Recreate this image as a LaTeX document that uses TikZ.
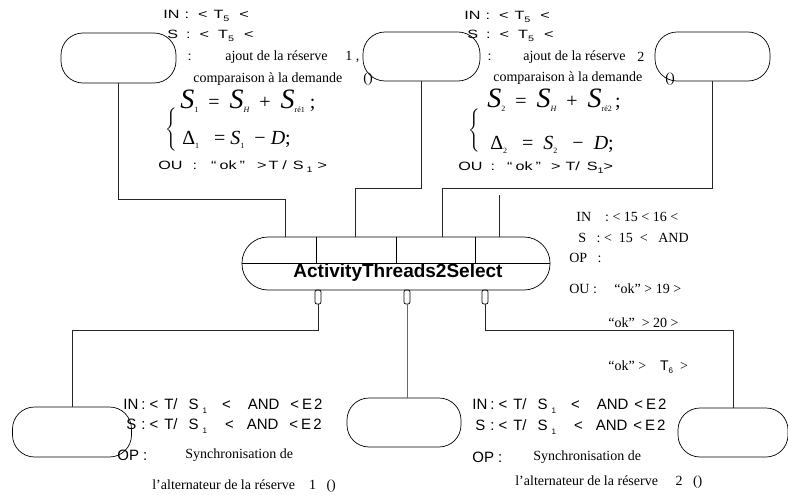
\documentclass[tikz,border=0pt]{standalone}
\usepackage{amsmath}
\usepackage{fontspec}
\setmainfont{Liberation Serif}
\setsansfont{Liberation Sans}
\newfontfamily\widesf{Liberation Sans}[FakeStretch=1.35]

\newcommand{\lowidx}[1]{\raisebox{-.45ex}{\fontsize{8}{8}\selectfont #1}}
\newcommand{\eqS}{{\fontsize{28}{28}\selectfont\itshape S}}

\definecolor{wirered}{RGB}{200,60,60}

\tikzset{
  pill/.style={draw, rounded corners=22pt, inner sep=0pt},
  port/.style={draw, rounded corners=2pt, minimum width=6pt, minimum height=14pt, inner sep=0pt},
  lab/.style={anchor=west, inner sep=0pt, font=\sffamily\fontsize{15}{15}\selectfont},
  labwide/.style={anchor=west, inner sep=0pt, font=\widesf\fontsize{12}{12}\selectfont},
  labrm/.style={anchor=west, inner sep=0pt, font=\fontsize{14}{14}\selectfont},
  eq/.style={anchor=west, inner sep=0pt, font=\fontsize{20}{20}\selectfont},
  brace/.style={inner sep=0pt, font=\fontsize{14}{14}\selectfont},
  wire/.style={line width=0.9pt, black!85},
}

\begin{document}
\begin{tikzpicture}[x=1pt, y=-1pt, line width=0.7pt]
        \useasboundingbox (0,0) rectangle (788,495);

        % Reserve activities (top)
        \node[pill, minimum width=115pt, minimum height=50pt] (resA) at (118.5,58) {};
        \node[pill, minimum width=117pt, minimum height=49pt] (resB) at (421.5,56.5) {};
        \node[pill, minimum width=115pt, minimum height=49pt] (resC) at (712.5,56.5) {};

        % Select thread
        \node[draw, rounded corners=26pt, minimum width=308pt, minimum height=53pt, inner sep=0pt] (thr) at (396,263.5) {};
        \draw (thr.west) -- (thr.east);
        \foreach \x in {316,396,475}
            \draw (thr.north -| \x,0) -- (thr.center -| \x,0);
        \node[font=\sffamily\bfseries\fontsize{19}{19}\selectfont, inner sep=0pt] (thrlbl) at (398,273) {ActivityThreads2Select};

        % Ports
        \node[port] (portA) at (318,297) {};
        \node[port] (portB) at (407,297) {};
        \node[port] (portC) at (485,297) {};

        % Synchronisation activities (bottom)
        \node[pill, minimum width=119pt, minimum height=50pt] (synA) at (72,432) {};
        \node[pill, minimum width=114pt, minimum height=49pt] (synB) at (404,422.5) {};
        \node[pill, minimum width=110pt, minimum height=49pt] (synC) at (733,432.5) {};

        % Inputs of the thread
        \coordinate (inA) at (285,237);
        \coordinate (inB) at (355,237);
        \coordinate (inC) at (442,237);
        \coordinate (inD) at (499,237);
        \draw[wire] (resA.south) -- ++(0,116) -| (inA);
        \draw[wire] (resB.south) -- ++(0,107) -| (inB);
        \draw[wire] (resC.south) -- ++(0,107) -| (inC);
        \draw[wire] (inD) -- ++(0,-42);

        % Outputs of the thread
        \draw[wire] (portA.south) -- ++(0,26) -| (synA.north);
        \draw[wire, wirered] (portB.south) -- (portB.south |- synB.north);
        \draw[wire] (portC.south) -- ++(0,26) -| (synC.north);

        % Labels, reserve 1
        \node[labwide] (a1) at (163,16) {IN\hspace{5pt}:\hspace{9pt}<\hspace{6pt}T\lowidx{5}\hspace{10pt}<};
        \node[labwide] (a2) at (167,36) {S\hspace{8pt}:\hspace{9pt}<\hspace{9pt}T\lowidx{5}\hspace{10pt}<};
        \node[labwide] (a3) at (187,57) {:};
        \node[labrm] (a4) at (225,57) {ajout de la réserve};
        \node[labrm] (a5) at (345,57) {1\ ,};
        \node[labrm] (a6) at (193,79) {comparaison à la demande};
        \node[labrm] (a7) at (363,79) {()};
        \node[eq] (a8) at (180,101) {\eqS\lowidx{1}\ \ =\ \ \eqS\lowidx{\itshape H}\ \ +\ \ \eqS\lowidx{ré1}\ ;};
        \node[eq] (a9) at (182,140) {Δ\lowidx{1}\ \ \ =\ {\itshape S}\lowidx{1}\ \ −\ {\itshape D};};
        \node[brace] (a10) at (171,130) {$\Bigg\{$};
        \node[labwide] (a11) at (158,167) {OU\hspace{10pt}:\hspace{14pt}“\hspace{3pt}ok\hspace{3pt}”\hspace{12pt}>\hspace{2pt}T\hspace{4pt}/\hspace{6pt}S\hspace{3pt}\lowidx{1}\hspace{5pt}>};

        % Labels, reserve 2
        \node[labwide] (b1) at (464,17) {IN\hspace{5pt}:\hspace{9pt}<\hspace{6pt}T\lowidx{5}\hspace{10pt}<};
        \node[labwide] (b2) at (467,36) {S\hspace{8pt}:\hspace{9pt}<\hspace{9pt}T\lowidx{5}\hspace{10pt}<};
        \node[labwide] (b3) at (487,57) {:};
        \node[labrm] (b4) at (523,57) {ajout de la réserve};
        \node[labrm] (b5) at (637,57) {2};
        \node[labrm] (b6) at (493,78) {comparaison à la demande};
        \node[labrm] (b7) at (665,79) {()};
        \node[eq] (b8) at (487,100) {\eqS\lowidx{2}\ \ =\ \ \eqS\lowidx{\itshape H}\ \ +\ \ \eqS\lowidx{ré2}\,;};
        \node[eq] (b9) at (490,145) {Δ\lowidx{2}\ \ \ =\ \ {\itshape S}\lowidx{2}\ \ \ −\ \ {\itshape D};};
        \node[brace] (b10) at (474,131) {$\Bigg\{$};
        \node[labwide] (b11) at (458,168) {OU\hspace{8pt}:\hspace{12pt}“\hspace{3pt}ok\hspace{3pt}”\hspace{10pt}>\hspace{5pt}T/\hspace{7pt}S\lowidx{1}>};

        % Labels, select thread
        \node[labrm] (c1) at (576,217) {IN\ \ \ \ :\ < 15 < 16 <};
        \node[labrm] (c2) at (578,238) {S\ \ \ : <\ \ 15\ \ <\ \ \ AND};
        \node[labrm] (c3) at (569,258) {OP\ \ \ :};
        \node[labrm] (c4) at (569,289) {OU :\ \ \ \ \ “ok” > 19 >};
        \node[labrm] (c5) at (608,323) {“ok”\ \ >\ 20 >};
        \node[labrm] (c6) at (608,367) {“ok” >\ \ \ \ {\sffamily T\lowidx{6}}\ \ >};

        % Labels, synchronisation 1
        \node[lab] (d1) at (123,406) {IN\hspace{3pt}:\hspace{4pt}<\hspace{6pt}T/\hspace{11pt}S\hspace{4pt}\lowidx{1}\hspace{15pt}<\hspace{17pt}AND\hspace{11pt}<\hspace{3pt}E\hspace{2pt}2};
        \node[lab] (d2) at (126,426) {S\hspace{5pt}:\hspace{4pt}<\hspace{6pt}T/\hspace{11pt}S\hspace{4pt}\lowidx{1}\hspace{18pt}<\hspace{13pt}AND\hspace{11pt}<\hspace{3pt}E\hspace{2pt}2};
        \node[lab] (d3) at (117,455) {OP :};
        \node[labrm] (d4) at (185,455) {Synchronisation de};
        \node[labrm] (d5) at (152,486) {l’alternateur de la réserve\ \ \ \ 1\ \ \ ()};

        % Labels, synchronisation 2
        \node[lab] (e1) at (472,406) {IN\hspace{3pt}:\hspace{4pt}<\hspace{6pt}T/\hspace{11pt}S\hspace{4pt}\lowidx{1}\hspace{15pt}<\hspace{17pt}AND\hspace{6pt}<\hspace{3pt}E\hspace{2pt}2};
        \node[lab] (e2) at (475,427) {S\hspace{5pt}:\hspace{4pt}<\hspace{6pt}T/\hspace{11pt}S\hspace{4pt}\lowidx{1}\hspace{18pt}<\hspace{13pt}AND\hspace{6pt}<\hspace{3pt}E\hspace{2pt}2};
        \node[lab] (e3) at (472,457) {OP :};
        \node[labrm] (e4) at (533,457) {Synchronisation de};
        \node[labrm] (e5) at (515,482) {l’alternateur de la réserve\ \ \ \ \ 2\ \ \ ()};
\end{tikzpicture}
\end{document}
